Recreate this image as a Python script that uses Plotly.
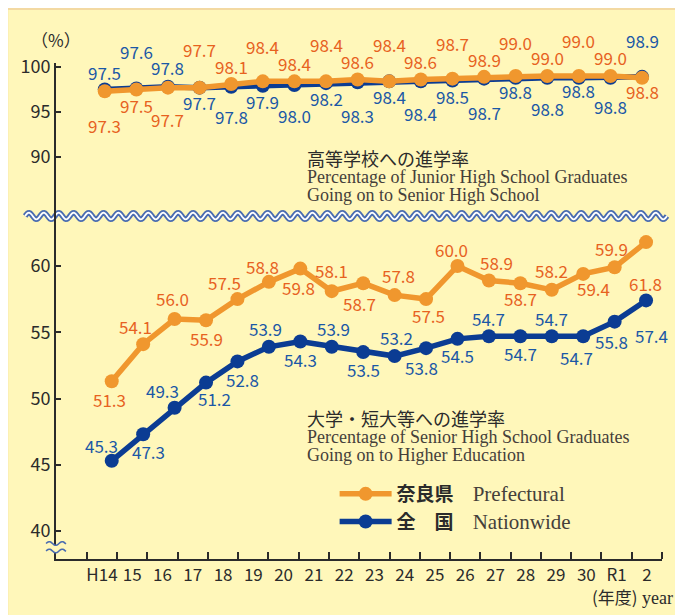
import math
import plotly.graph_objects as go

# ---------------- data ----------------
years = ["H14", "15", "16", "17", "18", "19", "20", "21", "22", "23",
         "24", "25", "26", "27", "28", "29", "30", "R1", "2"]

hs_pref = [97.3, 97.5, 97.7, 97.7, 98.1, 98.4, 98.4, 98.4, 98.6, 98.4,
           98.6, 98.7, 98.9, 99.0, 99.0, 99.0, 99.0, 98.8]
hs_nat = [97.5, 97.6, 97.8, 97.7, 97.8, 97.9, 98.0, 98.2, 98.3, 98.4,
          98.4, 98.5, 98.7, 98.8, 98.8, 98.8, 98.8, 98.9]
univ_pref = [51.3, 54.1, 56.0, 55.9, 57.5, 58.8, 59.8, 58.1, 58.7, 57.8,
             57.5, 60.0, 58.9, 58.7, 58.2, 59.4, 59.9, 61.8]
univ_nat = [45.3, 47.3, 49.3, 51.2, 52.8, 53.9, 54.3, 53.9, 53.5, 53.2,
            53.8, 54.5, 54.7, 54.7, 54.7, 54.7, 55.8, 57.4]

# ---------------- label placement (pixel offsets, style only) ----------------
hs_pref_dy = [-34, -16, -32, 38, 18, 35, 18, 37, 18, 37, 18, 35, 17, 33, 18, 35, 18, -14]
hs_nat_dy = [17, 37, 19, -15, -30, -16, -31, -15, -33, -15, -32, -16, -34, -14, -31, -13, -29, 36]
univ_pref_dy = [-18, 18, 20, -18, 17, 15, -19, 21, -20, 20, -16, 16, 18, -15, 19, -15, 19, -41]
univ_pref_dx = [-2, -8, -2, 0, -13, -6, -2, 0, -4, 4, 2, -6, 8, 0, 0, 10, -3, -1]
univ_nat_dy = [15, -17, 17, -16, -18, 18, -18, 18, -17, 19, -19, -17, 18, -17, 18, -21, -20, -35]
univ_nat_dx = [-10, 5, -12, 8, 5, -3, 0, 2, 0, 2, -5, 0, 0, 0, 0, -7, -3, 5]

# ---------------- styles ----------------
OFF = 8                     # page body margin of the browser
W, H = 683 - OFF, 615 - OFF
ML, MR, MT, MB = 53 - OFF, 21, 63 - OFF, 56
PW = W - ML - MR            # 609
PH = H - MT - MB            # 496

CREAM = "#FFF7BA"
TAN = "#F3D9A2"
ORANGE = "#F0972E"
ORANGE_T = "#E7621F"
BLUE = "#0B3C93"
BLUE_T = "#1B58A6"
WAVE = "#4A6CB0"
INK = "#2B2B2B"
SER = "#45403A"
SANS = "Noto Sans CJK JP"
SERIF = "Liberation Serif"


# helpers take page-pixel coordinates
def px(xp):
    return (xp - (ML + OFF)) / PW


def py(yp):
    return (H + OFF - MB - yp) / PH


def wave_pts(x0, x1, yc, amp, period, phase=0.0, step=1.0):
    n = max(2, int(abs(x1 - x0) / step))
    pts = []
    for i in range(n + 1):
        x = x0 + (x1 - x0) * i / n
        y = yc + amp * math.sin(2 * math.pi * (x - min(x0, x1)) / period + phase)
        pts.append((x, y))
    return pts


def path_of(pts, close=False):
    s = "M" + " L".join(f"{px(x):.5f},{py(y):.5f}" for x, y in pts)
    return s + (" Z" if close else "")


split = py(216)

fig = go.Figure()

# invisible trace so the labelled year axis is built
fig.add_trace(go.Scatter(x=list(range(len(years))), y=[None] * len(years),
                         xaxis="x", yaxis="y2", showlegend=False,
                         hoverinfo="skip", mode="markers"))

idx = list(range(len(hs_pref)))
LEG_SPAN = "<span style=\"font-family:Liberation Serif;font-weight:normal;font-size:21px;fill:#45403A\">"

# bottom panel
fig.add_trace(go.Scatter(x=idx, y=univ_nat, xaxis="x3", yaxis="y2", mode="lines+markers",
                         line=dict(color=BLUE, width=5.5), marker=dict(color=BLUE, size=14),
                         name="<b>全　国</b>　" + LEG_SPAN + "Nationwide</span>",
                         legendrank=2, legendgroup="n", cliponaxis=False))
fig.add_trace(go.Scatter(x=idx, y=univ_pref, xaxis="x3", yaxis="y2", mode="lines+markers",
                         line=dict(color=ORANGE, width=5.5), marker=dict(color=ORANGE, size=14),
                         name="<b>奈良県</b>　" + LEG_SPAN + "Prefectural</span>",
                         legendrank=1, legendgroup="p", cliponaxis=False))
# top panel
fig.add_trace(go.Scatter(x=idx, y=hs_nat, xaxis="x2", yaxis="y", mode="lines+markers",
                         line=dict(color=BLUE, width=5.5), marker=dict(color=BLUE, size=14),
                         showlegend=False, cliponaxis=False))
fig.add_trace(go.Scatter(x=idx, y=hs_pref, xaxis="x2", yaxis="y", mode="lines+markers",
                         line=dict(color=ORANGE, width=5.5), marker=dict(color=ORANGE, size=14),
                         showlegend=False, cliponaxis=False))

ann = []


def add_labels(vals, dys, dxs, xref, yref, color):
    for k, v in enumerate(vals):
        ann.append(dict(x=k, y=v, xref=xref, yref=yref, text=f"{v:.1f}", showarrow=False,
                        yshift=dys[k], xshift=dxs[k],
                        font=dict(family=SANS, size=17, color=color)))


zeros = [0] * len(hs_pref)
add_labels(hs_pref, hs_pref_dy, zeros, "x2", "y", ORANGE_T)
add_labels(hs_nat, hs_nat_dy, zeros, "x2", "y", BLUE_T)
add_labels(univ_pref, univ_pref_dy, univ_pref_dx, "x3", "y2", ORANGE_T)
add_labels(univ_nat, univ_nat_dy, univ_nat_dx, "x3", "y2", BLUE_T)


def txt(x, y, s, family=SANS, size=18, color=INK, anchor="left", yanchor="middle"):
    ann.append(dict(x=px(x), y=py(y), xref="paper", yref="paper", text=s, showarrow=False,
                    xanchor=anchor, yanchor=yanchor, align="left",
                    font=dict(family=family, size=size, color=color)))


def block(jp, en1, en2):
    sp_j = "<span style=\"font-family:Noto Sans CJK JP;font-size:18px\">"
    sp_e = "<span style=\"font-family:Liberation Serif;font-size:18px;fill:%s\">" % SER
    return (sp_j + jp + "</span><br>" + sp_e + en1 + "</span><br>" + sp_e + en2 + "</span>")


txt(26, 39, "（%）", size=17)
txt(303, 175, block("高等学校への進学率",
                    "Percentage of Junior High School Graduates",
                    "Going on to Senior High School"), size=13.4)
txt(303, 435, block("大学・短大等への進学率",
                    "Percentage of Senior High School Graduates",
                    "Going on to Higher Education"), size=13.4)
txt(590, 596, "(年度)<span style=\"font-family:Liberation Serif;font-size:18px\"> year</span>", size=17)

shapes = []
# frame background
shapes.append(dict(type="rect", xref="paper", yref="paper", x0=px(4), x1=px(679), y0=py(9), y1=py(H + OFF + 5),
                   fillcolor=CREAM, line=dict(color=TAN, width=2), layer="below"))
shapes.append(dict(type="rect", xref="paper", yref="paper", x0=px(0), x1=px(4), y0=py(9), y1=py(H + OFF + 5),
                   fillcolor="#FBE6B6", line=dict(width=0), layer="below"))
# axis-break wave band
wp = wave_pts(22, 667, 216, 3.3, 15.0, phase=math.pi)
shapes.append(dict(type="path", xref="paper", yref="paper", path=path_of(wp),
                   line=dict(color=WAVE, width=5.5), layer="below"))
shapes.append(dict(type="path", xref="paper", yref="paper", path=path_of(wp),
                   line=dict(color="white", width=1.8), layer="below"))
# small break mark near the bottom of the y axis
w1 = wave_pts(43, 63, 543.5, 1.8, 13.0, phase=math.pi)
w2 = wave_pts(43, 63, 551.0, 1.8, 13.0, phase=math.pi)
shapes.append(dict(type="path", xref="paper", yref="paper", path=path_of(w1 + w2[::-1], close=True),
                   fillcolor=CREAM, line=dict(width=0), layer="above"))
shapes.append(dict(type="path", xref="paper", yref="paper", path=path_of(w1),
                   line=dict(color=WAVE, width=1.6), layer="above"))
shapes.append(dict(type="path", xref="paper", yref="paper", path=path_of(w2),
                   line=dict(color=WAVE, width=1.6), layer="above"))

axis_common = dict(showgrid=False, zeroline=False, showline=True, linecolor=INK, linewidth=2,
                   ticks="inside", ticklen=5, tickwidth=2, tickcolor=INK,
                   tickfont=dict(family=SANS, size=18, color=INK))

fig.update_layout(
    width=W, height=H,
    margin=dict(l=ML, r=MR, t=MT, b=MB, pad=0),
    paper_bgcolor="white", plot_bgcolor="rgba(0,0,0,0)",
    xaxis=dict(domain=[0, 1], anchor="y2", range=[-1.519, 18.5],
               tickmode="array", tickvals=list(range(len(years))), ticktext=years,
               ticks="", showgrid=False, zeroline=False, showline=True,
               linecolor=INK, linewidth=2,
               tickfont=dict(family=SANS, size=17, color=INK),
               minor=dict(tickmode="array", tickvals=[i - 0.5 for i in range(len(years) + 1)],
                          ticks="inside", ticklen=7, tickwidth=2, tickcolor=INK, showgrid=False)),
    xaxis2=dict(domain=[0, 1], anchor="y", range=[-1.5426, 17.63], visible=False),
    xaxis3=dict(domain=[0, 1], anchor="y2", range=[-1.773, 17.507], visible=False),
    yaxis=dict(domain=[split, 1], anchor="x", range=[83.44, 100.44],
               tickvals=[90, 95, 100], **axis_common),
    yaxis2=dict(domain=[0, split], anchor="x", range=[37.89, 63.77],
                tickvals=[40, 45, 50, 55, 60], **axis_common),
    showlegend=True,
    legend=dict(x=px(333), y=py(475), xanchor="left", yanchor="top",
                bgcolor="rgba(0,0,0,0)", borderwidth=0, itemwidth=52,
                traceorder="grouped", tracegroupgap=0,
                font=dict(family=SANS, size=19, color=INK)),
    annotations=ann,
    shapes=shapes,
)

fig.write_html("out.html")
